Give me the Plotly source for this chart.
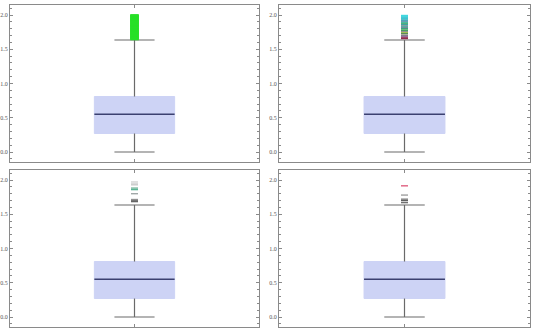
import plotly.graph_objects as go

# ---- data ----
panels = ["top-left", "top-right", "bottom-left", "bottom-right"]
q1 = [0.27, 0.27, 0.27, 0.27]
median = [0.55, 0.55, 0.55, 0.55]
q3 = [0.81, 0.81, 0.81, 0.81]
lower_fence = [0.0, 0.0, 0.0, 0.0]
upper_fence = [1.635, 1.635, 1.635, 1.635]

out1_vals = [1.645, 1.652, 1.66, 1.668, 1.675, 1.683, 1.69, 1.699, 1.706, 1.714,
             1.722, 1.73, 1.737, 1.745, 1.753, 1.761, 1.769, 1.777, 1.785, 1.792,
             1.80, 1.808, 1.816, 1.824, 1.832, 1.84, 1.848, 1.856, 1.864, 1.872,
             1.88, 1.888, 1.896, 1.904, 1.912, 1.92, 1.928, 1.936, 1.944, 1.952,
             1.96, 1.968, 1.976, 1.984, 1.992, 1.998]
out1_cols = ["#27e027"] * len(out1_vals)

out2_vals = [1.66, 1.675, 1.69, 1.705, 1.72, 1.735, 1.75, 1.765, 1.78, 1.795,
             1.81, 1.825, 1.84, 1.855, 1.87, 1.885, 1.90, 1.915, 1.93, 1.945,
             1.96, 1.975, 1.99]
out2_cols = ["#8c2a4a", "#a04060", "#9a6a9a", "#7a7a8a", "#b0b0a0", "#5a8a5a",
             "#a0c050", "#909090", "#40a060", "#6ac080", "#3a9a80", "#7a8aa0",
             "#50b0a0", "#909aa0", "#2aa8a0", "#60b070", "#40c0b0", "#8090b0",
             "#3ab0c0", "#60c8d0", "#30c0d0", "#50d0d8", "#40d8e0"]

out3_vals = [1.685, 1.70, 1.715, 1.80, 1.86, 1.875, 1.885, 1.93, 1.955, 1.975]
out3_cols = ["#606060", "#707070", "#909090", "#a0a8a8", "#50b090", "#70c0a0",
             "#a0c8b8", "#c8c8c8", "#d0d0d0", "#e0e0e0"]

out4_vals = [1.67, 1.70, 1.72, 1.78, 1.915]
out4_cols = ["#707070", "#606060", "#808080", "#a0a0a0", "#e06080"]

outliers = [(out1_vals, out1_cols), (out2_vals, out2_cols),
            (out3_vals, out3_cols), (out4_vals, out4_cols)]

ytick_vals = [0.0, 0.5, 1.0, 1.5, 2.0]
ytick_text = ["0.0", "0.5", "1.0", "1.5", "2.0"]

# ---- styling ----
BOX_FILL = "rgb(205,211,245)"
WHISKER = "#6a6a6a"
MEDIAN = "#3b4070"
FRAME = "#8a8a8a"
HALF_BOX = 0.49
HALF_CAP = 0.245
OUT_SIZE = [6, 5, 5, 5]
OUT_WIDTH = [2, 1.8, 1.4, 1.4]

W, H = 540, 329
xdoms = [[10 / W, 259 / W], [279 / W, 530 / W]]
ydoms = [[1 - 162 / H, 1 - 5 / H], [1 - 327 / H, 1 - 170 / H]]

fig = go.Figure()

for i in range(4):
    ax = "" if i == 0 else str(i + 1)
    xa, ya = "x" + ax, "y" + ax
    # box body
    fig.add_trace(go.Box(
        x=[0], q1=[q1[i]], median=[median[i]], q3=[q3[i]],
        lowerfence=[q1[i]], upperfence=[q3[i]],
        width=2 * HALF_BOX, fillcolor=BOX_FILL,
        line=dict(color=BOX_FILL, width=1), whiskerwidth=0,
        boxpoints=False, hoverinfo="skip", showlegend=False,
        xaxis=xa, yaxis=ya))
    # whiskers + caps
    wx = [0, 0, None, 0, 0, None, -HALF_CAP, HALF_CAP, None, -HALF_CAP, HALF_CAP]
    wy = [q3[i], upper_fence[i], None, q1[i], lower_fence[i], None,
          upper_fence[i], upper_fence[i], None, lower_fence[i], lower_fence[i]]
    fig.add_trace(go.Scatter(x=wx, y=wy, mode="lines",
                             line=dict(color=WHISKER, width=1.2),
                             hoverinfo="skip", showlegend=False,
                             xaxis=xa, yaxis=ya))
    # median
    fig.add_trace(go.Scatter(x=[-HALF_BOX, HALF_BOX], y=[median[i], median[i]],
                             mode="lines", line=dict(color=MEDIAN, width=1.5),
                             hoverinfo="skip", showlegend=False,
                             xaxis=xa, yaxis=ya))
    # outliers
    vals, cols = outliers[i]
    fig.add_trace(go.Scatter(
        x=[0] * len(vals), y=vals, mode="markers",
        marker=dict(symbol="line-ew", size=OUT_SIZE[i], color=cols,
                    line=dict(color=cols, width=OUT_WIDTH[i])),
        hoverinfo="y", showlegend=False, xaxis=xa, yaxis=ya))

    r, c = divmod(i, 2)
    xkey = "xaxis" + ax
    ykey = "yaxis" + ax
    fig.update_layout(**{
        xkey: dict(domain=xdoms[c], range=[-1.52, 1.52], anchor=ya,
                   showgrid=False, zeroline=False, showline=True,
                   linecolor=FRAME, linewidth=1.2, mirror="ticks",
                   ticks="inside", ticklen=3, tickcolor=FRAME,
                   tickvals=[0], showticklabels=False, fixedrange=True),
        ykey: dict(domain=ydoms[r], range=[-0.146, 2.146], anchor=xa,
                   showgrid=False, zeroline=False, showline=True,
                   linecolor=FRAME, linewidth=1.2, mirror="ticks",
                   ticks="inside", ticklen=3, tickcolor=FRAME,
                   tickvals=ytick_vals, ticktext=ytick_text,
                   tickfont=dict(family="Liberation Serif", size=6, color="#555555"),
                   minor=dict(dtick=0.1, ticks="inside", ticklen=1.5,
                              tickcolor=FRAME, showgrid=False),
                   fixedrange=True),
    })

fig.update_layout(width=W, height=H, margin=dict(l=0, r=0, t=0, b=0),
                  paper_bgcolor="white", plot_bgcolor="white")

fig.write_html("out.html")
